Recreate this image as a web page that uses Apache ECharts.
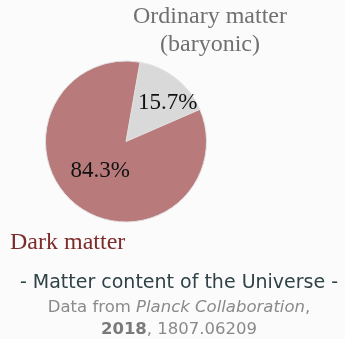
<!DOCTYPE html>
<html>
<head>
<meta charset="utf-8">
<script src="https://cdn.jsdelivr.net/npm/echarts@6/dist/echarts.min.js"></script>
<style>
  html, body { margin: 0; padding: 0; background: #fbfbfb; }
  #chart { width: 345px; height: 339px; }
</style>
</head>
<body>
<div id="chart"></div>
<script>
// Matter budget of the Universe (Planck 2018)
const categories = ['Ordinary matter\n(baryonic)', 'Dark matter'];
const shares = [15.7, 84.3];
const sliceColors = ['#d9d9d9', '#b87a7a'];
const nameColors = ['#707070', '#7d2b2b'];

const chart = echarts.init(document.getElementById('chart'));

const serif = '"Liberation Serif", serif';
const sans = '"DejaVu Sans", sans-serif';

const labelOffsets = [[15, -5], [1, -5]];

chart.setOption({
  backgroundColor: '#fbfbfb',
  animation: false,
  title: [{
    text: '- Matter content of the Universe -',
    left: 179,
    top: 274,
    padding: 0,
    textAlign: 'center',
    textStyle: { fontFamily: sans, fontSize: 19, fontWeight: 'normal', color: '#2f4246' },
    subtext: 'Data from {i|Planck Collaboration},\n{b|2018}, 1807.06209',
    itemGap: 4,
    subtextStyle: {
      fontFamily: sans, fontSize: 16.5, color: '#8a8a8a', lineHeight: 22, align: 'center',
      rich: {
        i: { fontFamily: sans, fontSize: 16.5, fontStyle: 'italic', color: '#8a8a8a' },
        b: { fontFamily: sans, fontSize: 16.5, fontWeight: 'bold', color: '#7a7a7a' }
      }
    }
  }],
  graphic: [
    {
      type: 'text', x: 210, y: 3,
      style: { text: categories[0], fill: nameColors[0], font: '24px ' + serif, lineHeight: 28, align: 'center', verticalAlign: 'top' }
    },
    {
      type: 'text', x: 10, y: 243,
      style: { text: categories[1], fill: nameColors[1], font: '24px ' + serif, verticalAlign: 'middle' }
    }
  ],
  series: [{
    type: 'pie',
    center: [126, 141.5],
    radius: 80.5,
    startAngle: 80,
    clockwise: true,
    silent: true,
    itemStyle: { borderColor: '#e2e2e2', borderWidth: 1 },
    label: {
      show: true,
      position: 'inside',
      fontFamily: serif,
      fontSize: 23,
      color: '#111',
      formatter: p => p.value.toFixed(1) + '%'
    },
    labelLine: { show: false },
    data: categories.map((c, i) => ({
      name: c,
      value: shares[i],
      itemStyle: { color: sliceColors[i] },
      label: { offset: labelOffsets[i] }
    }))
  }]
});
</script>
</body>
</html>
